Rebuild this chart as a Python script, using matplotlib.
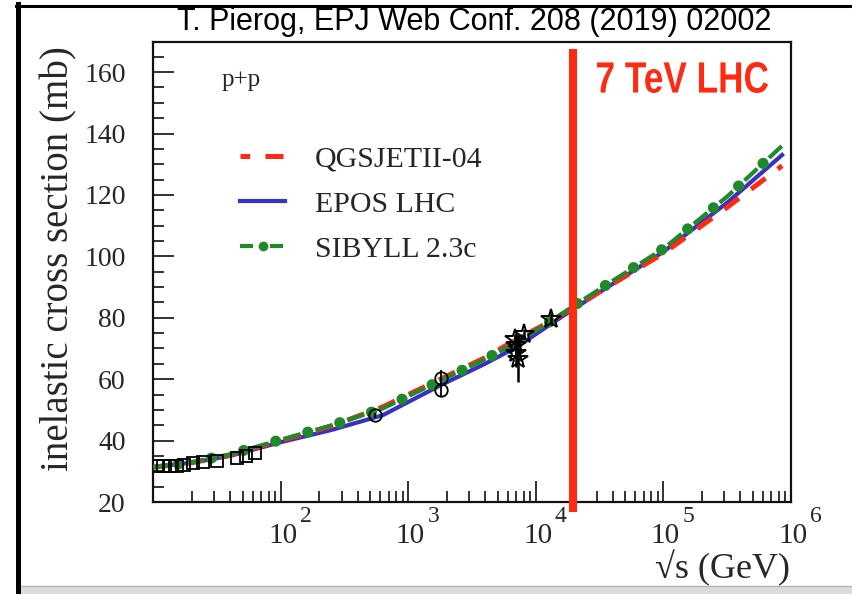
import numpy as np
import matplotlib
matplotlib.use("Agg")
import matplotlib.pyplot as plt
from matplotlib.lines import Line2D
from matplotlib.patches import Rectangle, PathPatch
from matplotlib.textpath import TextPath
from matplotlib.font_manager import FontProperties
from matplotlib.transforms import Affine2D, IdentityTransform, offset_copy
from matplotlib.ticker import FixedLocator, MultipleLocator, NullFormatter

plt.rcParams['font.family'] = ['Liberation Serif', 'DejaVu Serif']
plt.rcParams['lines.scale_dashes'] = False

# model curves, x = log10(sqrt(s)/GeV), y = inelastic cross section (mb)
log_e = [1.0, 1.3, 1.6, 2.0, 2.4, 2.8, 3.25, 3.6, 3.85, 4.1, 4.3, 4.6, 5.0, 5.5, 5.93]
qgsjet = [31.3, 32.8, 35.3, 40.0, 44.8, 51.0, 60.0, 67.0, 73.0, 78.5, 83.5, 91.0, 101.0, 116.0, 129.5]
epos = [31.5, 32.8, 35.0, 39.5, 43.5, 48.3, 58.0, 65.0, 70.5, 77.5, 83.0, 91.0, 101.5, 117.5, 133.0]
sibyll = [31.3, 33.0, 35.5, 40.3, 45.0, 50.5, 59.5, 66.5, 72.0, 78.5, 84.0, 92.0, 102.5, 119.5, 136.0]

# measurements
sq_e = [10.6, 11.8, 13.4, 15.2, 17.5, 20.5, 24.5, 31.5, 45.0, 53.0, 62.5]
sq_sig = [31.6, 31.6, 31.7, 31.8, 32.0, 32.6, 32.9, 33.3, 34.4, 35.0, 35.9]
circ_e = [546, 1800, 1800]
circ_sig = [48.3, 60.5, 56.6]
circ_err = [0.8, 2.5, 2.3]
star_e = [6800, 7000, 7000, 7200, 8000, 13000]
star_sig = [73.2, 71.0, 68.5, 66.5, 74.7, 79.5]
star_err = [1.5, 3.0, 4.5, 7.5, 1.5, 2.0]

lhc_e = 19500  # where the red marker line sits in the figure

labels = ['QGSJETII-04', 'EPOS LHC', 'SIBYLL 2.3c']
xticks = [1e2, 1e3, 1e4, 1e5, 1e6]
xexp = ['2', '3', '4', '5', '6']

c_red = '#ff2a12'
c_blue = '#3b30c4'
c_green = '#1f8a2a'
c_txt = '#262626'

fig = plt.figure(figsize=(8.53, 5.94), dpi=100)
ax = fig.add_axes([153.5 / 853, 92 / 594, 637.5 / 853, 460 / 594])

e = 10 ** np.array(log_e)
ax.plot(e, epos, color=c_blue, lw=3.0, zorder=3)
ax.plot(e, qgsjet, color=c_red, lw=3.6, ls=(0, (13, 11)), zorder=4)
ax.plot(e, sibyll, color=c_green, lw=3.0, ls=(0, (12.5, 11.5)), zorder=5)
# the dots of SIBYLL: a dash pattern of near-zero dashes with round caps
ax.plot(e, sibyll, color=c_green, lw=8.0, ls=(5.9, (0.1, 23.9)),
        dash_capstyle='round', zorder=5)

ax.plot(sq_e, sq_sig, ls='none', marker='s', ms=8, mfc='none', mec='k', mew=1.3, zorder=6)
ax.errorbar(circ_e, circ_sig, yerr=circ_err, fmt='o', ms=9, mfc='none', mec='k',
            mew=1.3, ecolor='k', elinewidth=1.3, capsize=0, zorder=6)
ax.errorbar(star_e, star_sig, yerr=star_err, fmt='*', ms=15, mfc='none', mec='k',
            mew=1.4, ecolor='k', elinewidth=1.8, capsize=0, zorder=6)

ax.plot([lhc_e, lhc_e], [18.0, 166.2], color=c_red, lw=5.8, clip_on=False, zorder=7)

ax.set_xscale('log')
ax.set_xlim(10, 1e6)
ax.set_ylim(20, 169.8)

ax.xaxis.set_major_locator(FixedLocator(xticks))
ax.xaxis.set_major_formatter(NullFormatter())
ax.xaxis.set_minor_locator(FixedLocator([m * 10 ** d for d in range(1, 6) for m in range(2, 10)]))
ax.xaxis.set_minor_formatter(NullFormatter())
ax.yaxis.set_major_locator(MultipleLocator(20))
ax.yaxis.set_minor_locator(MultipleLocator(5))

ax.tick_params(which='both', direction='in', top=False, right=False, width=1.3, color='#222222')
ax.tick_params(which='major', length=15)
ax.tick_params(which='minor', length=8)
ax.tick_params(axis='y', labelsize=20, pad=20, labelcolor=c_txt)
for sp in ax.spines.values():
    sp.set_linewidth(1.6)
    sp.set_color('#111111')

# x tick labels drawn as "10" plus a raised exponent
base_tr = offset_copy(ax.get_xaxis_transform(), fig, x=2, y=0, units='dots')
exp_tr = offset_copy(ax.get_xaxis_transform(), fig, x=19, y=0, units='dots')
for xt, ex in zip(xticks, xexp):
    ax.text(xt, -21 / 460, '10', transform=base_tr, ha='center', va='top',
            fontsize=21, color=c_txt, clip_on=False)
    ax.text(xt, -4 / 460, ex, transform=exp_tr, ha='left', va='top',
            fontsize=17, color=c_txt, clip_on=False)

fig.text(59 / 853, 1 - 259 / 594, 'inelastic cross section (mb)', rotation=90,
         ha='center', va='center', fontsize=28, color=c_txt)
fig.text(790 / 853, 1 - 568 / 594, '\u221as (GeV)', ha='right', va='center',
         fontsize=26, color=c_txt)

ax.text(0.107, 0.917, 'p+p', transform=ax.transAxes, fontsize=18, va='center', color=c_txt)

# "7 TeV LHC" in a condensed bold sans, squeezed from the regular bold
tp = TextPath((0, 0), '7 TeV LHC', size=10,
              prop=FontProperties(family='Liberation Sans', weight='bold'))
ext = tp.get_extents()
sx = 171 / ext.width
sy = 31 / ext.height
tr = (Affine2D().translate(-ext.x0, -ext.y0).scale(sx, sy).translate(597, 594 - 93)
      + IdentityTransform())
fig.add_artist(PathPatch(tp, transform=tr, color=c_red, lw=0))

# legend proxies with the patterns as they look in the key
k_red = Line2D([], [], color=c_red, lw=3.6, ls=(6, (13, 11)))
k_blue = Line2D([], [], color=c_blue, lw=3.0)
k_green = Line2D([], [], color=c_green, lw=3.0, ls=(0, (9.4, 12.2)),
                 marker='o', ms=7, mew=0)
ax.legend([k_red, k_blue, k_green], labels, numpoints=1,
          loc='upper left', bbox_to_anchor=(0.136, 0.774), frameon=False,
          fontsize=21.5, handlelength=1.5, handletextpad=1.0, labelspacing=0.6,
          borderpad=0, borderaxespad=0, labelcolor=c_txt)

fig.text(474 / 853, 1 - 22 / 594, 'T. Pierog, EPJ Web Conf. 208 (2019) 02002',
         ha='center', va='center', fontsize=22,
         family=['Liberation Sans', 'DejaVu Sans'], color='black')

# outer frame of the slide
fig.add_artist(Rectangle((20 / 853, 0), 1, 8 / 594, transform=fig.transFigure,
                         color='#dcdcdc', lw=0))
fig.add_artist(Line2D([20 / 853, 1], [8 / 594, 8 / 594], color='#b5b5b5', lw=1.0))
fig.add_artist(Line2D([18.5 / 853, 18.5 / 853], [0, 1 - 4 / 594], color='black', lw=3.6))
fig.add_artist(Line2D([16 / 853, 1], [1 - 5.5 / 594, 1 - 5.5 / 594], color='black', lw=2.2))

fig.savefig('out.png', dpi=100)
